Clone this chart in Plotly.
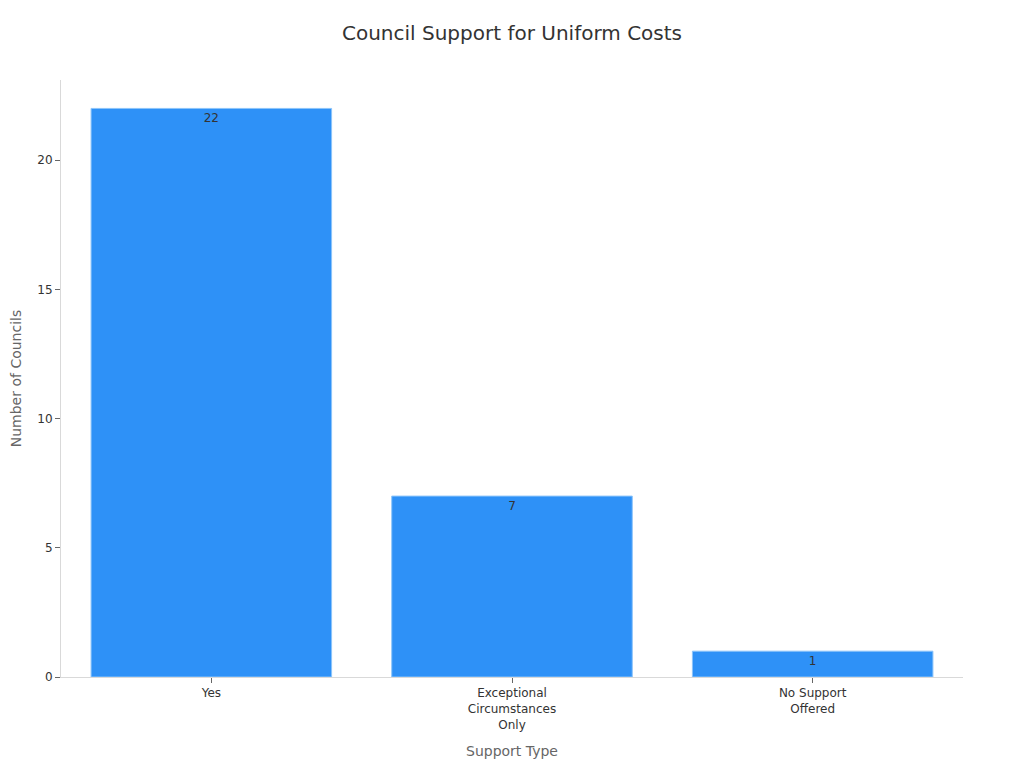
import plotly.graph_objects as go

categorias = ['Yes', 'Exceptional<br>Circumstances<br>Only', 'No Support<br>Offered']
conselhos = [22, 7, 1]
rotulos = ['22', '7', '1']

fig = go.Figure(go.Bar(
    x=categorias,
    y=conselhos,
    text=rotulos,
    textposition='inside',
    insidetextanchor='end',
    textfont=dict(color='#333333', size=12),
    marker=dict(color='#2E91F7', line=dict(color='#8CC4FA', width=1)),
    width=0.8,
))

fig.update_layout(
    title=dict(text='Council Support for Uniform Costs', xref='paper', x=0.5, y=0.9766,
               font=dict(size=20, color='#333333')),
    font=dict(family='DejaVu Sans', size=12, color='#333333'),
    width=1024, height=768,
    margin=dict(l=53, r=69, t=72, b=99),
    plot_bgcolor='white', paper_bgcolor='white',
    showlegend=False,
)
fig.update_xaxes(title=dict(text='Support Type', font=dict(size=14, color='#666666')),
                 showline=True, linecolor='#d9d9d9', ticks='outside', tickcolor='#666666',
                 ticklen=5, showgrid=False, tickfont=dict(size=12))
fig.update_yaxes(title=dict(text='Number of Councils', font=dict(size=14, color='#666666')),
                 range=[0, 23.1], showline=True, linecolor='#d9d9d9', ticks='outside',
                 tickcolor='#666666', ticklen=5, showgrid=False, zeroline=False,
                 tickvals=[0, 5, 10, 15, 20], tickfont=dict(size=12), automargin=False)

fig.write_html("out.html")
